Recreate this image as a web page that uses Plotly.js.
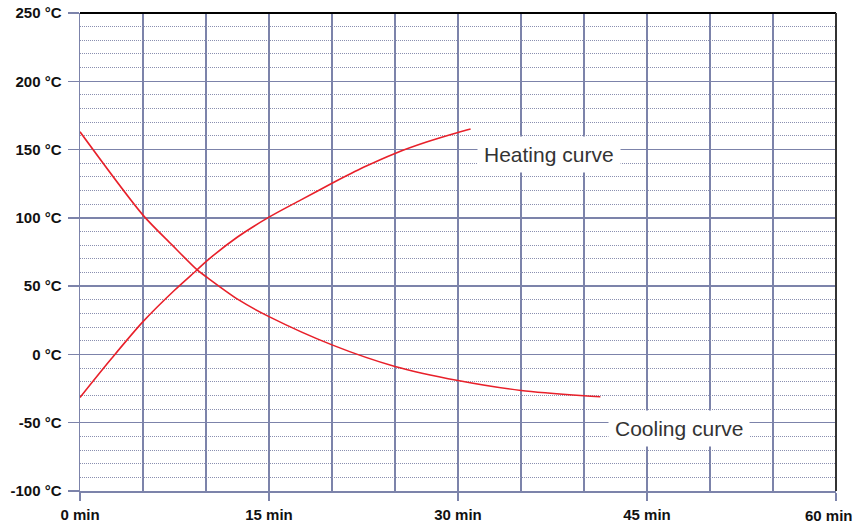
<!DOCTYPE html>
<html>
<head>
<meta charset="utf-8">
<script src="https://cdn.plot.ly/plotly-3.0.1.min.js"></script>
<style>html,body{margin:0;padding:0;background:#fff;}#chart{width:857px;height:526px;}</style>
</head>
<body>
<div id="chart"></div>
<script>
// Data (time in minutes, temperature in °C)
const heatingTime = [0, 2.5, 5, 7.5, 9.3, 10, 12.5, 15, 17.5, 20, 22.5, 25, 27.5, 30, 31];
const heatingTemp = [-31.5, -3, 24, 47, 62, 68, 86, 100.5, 113, 125.3, 137, 147.2, 155.5, 162.5, 165];
const coolingTime = [0, 5, 7.3, 9.3, 10, 12.6, 15, 20, 25, 30, 35, 40, 41.3];
const coolingTemp = [163, 102, 80.2, 61.9, 57, 39.9, 27.7, 7.0, -8.8, -19.1, -26.4, -30.3, -31];

const xTickVals = [0, 15, 30, 45, 60];
const xTickText = ["0 min", "15 min", "30 min", "45 min", "60 min"];
const yTickVals = [-100, -50, 0, 50, 100, 150, 200, 250];
const yTickText = ["-100 °C", "-50 °C", "0 °C", "50 °C", "100 °C", "150 °C", "200 °C", "250 °C"];

const curveLabels = ["Heating curve", "Cooling curve"];
const labelX = [37.2, 47.5];
const labelY = [146.7, -54.5];

const gridCol = "#7c83aa";
const minorCol = "#8a8fb0";
const red = "#e8202a";
const tickFont = {family: "Liberation Sans, Arial, sans-serif", size: 15, color: "#111", weight: "bold"};

const traces = [
  {x: heatingTime, y: heatingTemp, mode: "lines", line: {color: red, width: 1.6, shape: "spline", smoothing: 0.8}, hoverinfo: "skip"},
  {x: coolingTime, y: coolingTemp, mode: "lines", line: {color: red, width: 1.6, shape: "spline", smoothing: 0.8}, hoverinfo: "skip"}
];

const annotations = curveLabels.map((t, i) => ({
  x: labelX[i], y: labelY[i], xref: "x", yref: "y", text: t, showarrow: false,
  font: {family: "Liberation Sans, Arial, sans-serif", size: 21, color: "#333"},
  bgcolor: "#fff", borderpad: 6
}));

// The last x tick label sits against the right edge, so it is drawn as an annotation
const lastIdx = xTickVals.length - 1;
annotations.push({
  x: xTickVals[lastIdx], y: 0, xref: "x", yref: "paper", text: xTickText[lastIdx],
  showarrow: false, xanchor: "right", yanchor: "top", xshift: 19, yshift: -14,
  font: tickFont
});
const axisTickText = xTickText.map((t, i) => (i === lastIdx ? "" : t));

const layout = {
  width: 857, height: 526,
  margin: {l: 80, r: 21, t: 13, b: 35},
  paper_bgcolor: "#fff", plot_bgcolor: "#fff",
  showlegend: false,
  xaxis: {
    range: [0, 60], tickvals: xTickVals, ticktext: axisTickText, tickfont: tickFont,
    showgrid: true, gridcolor: gridCol, gridwidth: 1.5,
    minor: {dtick: 5, tick0: 0, showgrid: true, gridcolor: gridCol, gridwidth: 1.5, ticks: ""},
    ticks: "outside", ticklen: 8, tickwidth: 1.5, tickcolor: gridCol,
    showline: true, linecolor: gridCol, linewidth: 1.5,
    zeroline: false, fixedrange: true, ticklabelstandoff: 1
  },
  yaxis: {
    range: [-100, 250], tickvals: yTickVals, ticktext: yTickText, tickfont: tickFont,
    showgrid: true, gridcolor: gridCol, gridwidth: 1.5,
    minor: {dtick: 10, tick0: 0, showgrid: true, gridcolor: minorCol, gridwidth: 1, griddash: "1px,1px", ticks: ""},
    ticks: "outside", ticklen: 11, tickwidth: 1.5, tickcolor: gridCol,
    showline: true, linecolor: gridCol, linewidth: 1.5,
    zeroline: false, fixedrange: true, ticklabelstandoff: 3
  },
  shapes: [
    {type: "line", xref: "paper", yref: "paper", x0: 0, x1: 1, y0: 1, y1: 1, line: {color: "#000", width: 2}},
    {type: "line", xref: "paper", yref: "paper", x0: 1, x1: 1, y0: 0, y1: 1, line: {color: "#333", width: 2}}
  ],
  annotations: annotations
};

Plotly.newPlot("chart", traces, layout, {staticPlot: true, displayModeBar: false});
</script>
</body>
</html>
